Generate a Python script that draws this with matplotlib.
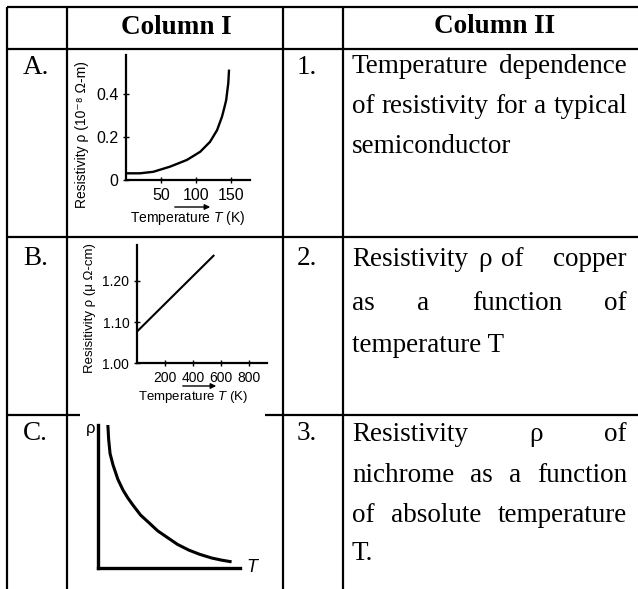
import re
import matplotlib
matplotlib.use('Agg')
import matplotlib.pyplot as plt

plt.rcParams['font.family'] = ['Liberation Sans', 'DejaVu Sans']
plt.rcParams['mathtext.fontset'] = 'custom'
plt.rcParams['mathtext.rm'] = 'Liberation Sans'
plt.rcParams['mathtext.it'] = 'Liberation Sans:italic'

W, H = 638, 589
SERIF = ['Liberation Serif', 'DejaVu Serif']

# chart A: resistivity vs temperature (low T)
a_temp = [3, 20, 39, 63, 87, 106, 120, 130, 137, 140, 143, 144.5, 146, 147]
a_rho = [0.031, 0.031, 0.038, 0.062, 0.093, 0.131, 0.177, 0.231, 0.293, 0.33, 0.37, 0.41, 0.448, 0.506]
a_xticks = [50, 100, 150]
a_yticks = [0, 0.2, 0.4]
a_yticklabels = ['0', '0.2', '0.4']

# chart B: straight line
b_temp = [0, 545]
b_rho = [1.077, 1.261]
b_xticks = [200, 400, 600, 800]
b_yticks = [1.00, 1.10, 1.20]
b_yticklabels = ['1.00', '1.10', '1.20']

# chart C: falling curve (arbitrary units)
c_temp = [0.07, 0.075, 0.085, 0.106, 0.14, 0.176, 0.21, 0.246, 0.30, 0.366, 0.42,
          0.486, 0.56, 0.64, 0.718, 0.80, 0.87, 0.93]
c_rho = [0.99, 0.90, 0.80, 0.72, 0.62, 0.545, 0.49, 0.44, 0.37, 0.31, 0.26,
         0.215, 0.165, 0.125, 0.095, 0.07, 0.055, 0.045]

headers = ['Column I', 'Column II']
row_letters = ['A.', 'B.', 'C.']
row_numbers = ['1.', '2.', '3.']
# (text, justified)
col2_text = [
    [('Temperature dependence', True), ('of resistivity for a typical', True), ('semiconductor', False)],
    [('Resistivity ρ of   copper', True), ('as a function of', True), ('temperature T', False)],
    [('Resistivity ρ of', True), ('nichrome as a function', True),
     ('of absolute temperature', True), ('T.', False)],
]
row_base = [74, 265, 440]
line_base = [[73, 113, 153], [266, 310, 352], [441, 482, 522, 560]]


def box(left, top, right, bottom):
    return [left / W, 1 - bottom / H, (right - left) / W, (bottom - top) / H]


fig = plt.figure(figsize=(W / 100, H / 100), dpi=100)
bg = fig.add_axes([0, 0, 1, 1])
bg.set_xlim(0, W)
bg.set_ylim(H, 0)
bg.axis('off')
renderer = fig.canvas.get_renderer()

# table grid
lw = 1.6
for y in [7, 49, 237]:
    bg.plot([7, W], [y, y], color='black', lw=lw, solid_capstyle='butt')
bg.plot([7, 80], [415, 415], color='black', lw=lw, solid_capstyle='butt')
bg.plot([265, W], [415, 415], color='black', lw=lw, solid_capstyle='butt')
for x in [7, 67, 283, 343]:
    bg.plot([x, x], [7, H], color='black', lw=lw, solid_capstyle='butt')

fs = 19.5
bg.text(176, 34, headers[0], ha='center', va='baseline', family=SERIF, weight='bold', size=fs)
bg.text(495, 33, headers[1], ha='center', va='baseline', family=SERIF, weight='bold', size=fs)


def justify(line, y, x0, x1):
    parts = re.split(r'( +)', line)
    words = parts[0::2]
    gaps = [len(g) for g in parts[1::2]]
    texts = [bg.text(0, y, w, ha='left', va='baseline', family=SERIF, size=fs) for w in words]
    widths = [t.get_window_extent(renderer).width for t in texts]
    extra = (x1 - x0) - sum(widths)
    unit = extra / max(sum(gaps), 1)
    x = x0
    for i, t in enumerate(texts):
        t.set_x(x)
        x += widths[i]
        if i < len(gaps):
            x += gaps[i] * unit


for i in range(3):
    bg.text(23, row_base[i], row_letters[i], ha='left', va='baseline', family=SERIF, size=fs)
    bg.text(297, row_base[i], row_numbers[i], ha='left', va='baseline', family=SERIF, size=fs)
    for (line, just), y in zip(col2_text[i], line_base[i]):
        if just:
            justify(line, y, 352, 627)
        else:
            bg.text(352, y, line, ha='left', va='baseline', family=SERIF, size=fs)

# chart A
ax_a = fig.add_axes(box(126, 55, 250, 180))
ax_a.patch.set_alpha(0)
ax_a.plot(a_temp, a_rho, color='black', lw=1.7)
ax_a.set_xlim(0, 177)
ax_a.set_ylim(0, 0.579)
ax_a.set_xticks(a_xticks)
ax_a.set_yticks(a_yticks, a_yticklabels)
ax_a.spines[['top', 'right']].set_visible(False)
ax_a.spines[['left', 'bottom']].set_linewidth(1.6)
ax_a.tick_params(direction='inout', length=5, width=1, labelsize=11.5, pad=3)
bg.text(82, 135, 'Resistivity ρ (10⁻⁸ Ω-m)', rotation=90, ha='center', va='center', size=10)
bg.text(187.5, 218, 'Temperature $T$ (K)', ha='center', va='center', size=10)
bg.annotate('', xy=(213, 207), xytext=(172, 207),
            arrowprops=dict(arrowstyle='-|>', lw=1, color='black', mutation_scale=8))

# chart B
ax_b = fig.add_axes(box(137, 245, 267, 363.3))
ax_b.patch.set_alpha(0)
ax_b.plot(b_temp, b_rho, color='black', lw=1.5)
ax_b.set_xlim(0, 926)
ax_b.set_ylim(1.0, 1.287)
ax_b.set_xticks(b_xticks)
ax_b.set_yticks(b_yticks, b_yticklabels)
ax_b.spines[['top', 'right']].set_visible(False)
ax_b.spines[['left', 'bottom']].set_linewidth(1.6)
ax_b.tick_params(direction='inout', length=5, width=1, labelsize=10, pad=3)
bg.text(90, 308, 'Resisitivity ρ (μ Ω-cm)', rotation=90, ha='center', va='center', size=9.5)
bg.text(193, 397, 'Temperature $T$ (K)', ha='center', va='center', size=9.5)
bg.annotate('', xy=(219, 386), xytext=(180, 386),
            arrowprops=dict(arrowstyle='-|>', lw=1, color='black', mutation_scale=8))

# chart C
ax_c = fig.add_axes(box(98, 425, 240, 568))
ax_c.patch.set_alpha(0)
ax_c.plot(c_temp, c_rho, color='black', lw=2.2)
ax_c.set_xlim(0, 1)
ax_c.set_ylim(0, 1)
ax_c.set_xticks([])
ax_c.set_yticks([])
ax_c.spines[['top', 'right']].set_visible(False)
ax_c.spines[['left', 'bottom']].set_linewidth(2.4)
bg.text(91, 428, 'ρ', ha='center', va='center', size=12)
bg.text(252, 567, 'T', ha='center', va='center', size=13, style='italic')

fig.savefig('out.png', dpi=100)
